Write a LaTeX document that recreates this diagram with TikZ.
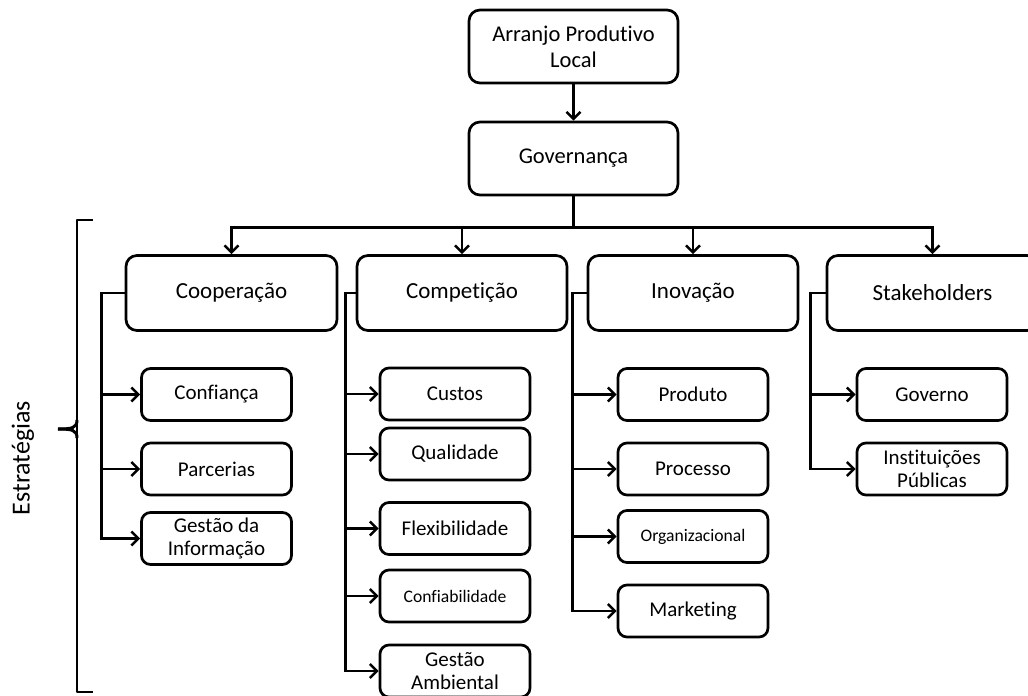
\documentclass[tikz,border=0pt]{standalone}
\usepackage{fontspec}
\setmainfont{Carlito}[Ligatures={NoCommon,NoContextual}]
\usetikzlibrary{arrows.meta,calc}
\begin{document}
\begin{tikzpicture}[x=1pt,y=-1pt,
  every node/.style={inner sep=0pt},
  bigbox/.style={draw,line width=2.7pt,rounded corners=11pt,minimum width=210pt,minimum height=75pt,font=\fontsize{23}{27}\selectfont,align=center},
  topbox/.style={bigbox,minimum width=209pt,minimum height=73pt,font=\fontsize{22.5}{26}\selectfont},
  smallbox/.style={draw,line width=2.7pt,rounded corners=9pt,minimum width=150pt,minimum height=52pt,font=\fontsize{21}{24}\selectfont,align=center},
  tinytext/.style={font=\fontsize{17.6}{21}\selectfont},
  conn/.style={line width=2.7pt},
  arr/.style={conn,-{Straight Barb[length=7pt,width=14pt,line width=2.5pt]}}]
\useasboundingbox (0,0) rectangle (1028,696);
% top
\node[topbox] (apl) at (573.5,46.5) {Arranjo Produtivo\\Local};
\node[topbox] (gov) at (573.5,158.5) {Governança};
% strategies
\node[bigbox,minimum width=211pt] (coop) at (231.5,293) {Cooperação};
\node[bigbox] (comp) at (462,293) {Competição};
\node[bigbox] (inov) at (693,293) {Inovação};
\node[bigbox,minimum width=211pt] (stake) at (932.5,293) {Stakeholders};
% cooperacao children
\node[smallbox] (conf) at (216.5,394.5) {Confiança};
\node[smallbox] (parc) at (216.5,469) {Parcerias};
\node[smallbox,font=\fontsize{21}{23}\selectfont] (gesti) at (216.5,538.5) {Gestão da\\Informação};
% competicao children
\node[smallbox] (cust) at (455,394) {Custos};
\node[smallbox] (qual) at (455,454) {Qualidade};
\node[smallbox] (flex) at (455,528.5) {Flexibilidade};
\node[smallbox,tinytext] (confi) at (455,596) {Confiabilidade};
\node[smallbox,font=\fontsize{21}{23}\selectfont] (gamb) at (455,671) {Gestão\\Ambiental};
% inovacao children
\node[smallbox] (prod) at (693,394.5) {Produto};
\node[smallbox] (proc) at (693,469) {Processo};
\node[smallbox,tinytext] (org) at (693,536.5) {Organizacional};
\node[smallbox] (mkt) at (693,611) {Marketing};
% stakeholders children
\node[smallbox] (govn) at (932,394.5) {Governo};
\node[smallbox,font=\fontsize{21}{23}\selectfont] (inst) at (932,469) {Instituições\\Públicas};
% connectors top
\draw[arr] (apl.south) -- (gov.north);
\draw[conn] (gov.south) -- ++(0,31) coordinate (bus);
\draw[arr] (bus) -| (coop.north);
\draw[arr] (bus) -| (comp.north);
\draw[arr] (bus) -| (inov.north);
\draw[arr] (bus) -| (stake.north);
% side buses
\coordinate (cb) at ($(coop.west)+(-23,0)$);
\coordinate (pb) at ($(comp.west)+(-10,0)$);
\coordinate (ib) at ($(inov.west)+(-14,0)$);
\coordinate (sb) at ($(stake.west)+(-15,0)$);
\foreach \c in {conf,parc,gesti}{\draw[arr] (coop.west) -- (cb) |- (\c.west);}
\foreach \c in {cust,qual,flex,confi,gamb}{\draw[arr] (comp.west) -- (pb) |- (\c.west);}
\foreach \c in {prod,proc,org,mkt}{\draw[arr] (inov.west) -- (ib) |- (\c.west);}
\foreach \c in {govn,inst}{\draw[arr] (stake.west) -- (sb) |- (\c.west);}
% brace
\draw[line width=2.8pt,line join=round] (93,220) -- (77,220) -- (77,692) -- (93,692);
\draw[line width=3pt] (77,420) .. controls (77,428) and (72,429) .. (58,429);
\draw[line width=3pt] (77,438) .. controls (77,430) and (72,429) .. (58,429);
\node[rotate=90,font=\fontsize{26}{30}\selectfont] (estr) at (23,458) {Estratégias};
\end{tikzpicture}
\end{document}
